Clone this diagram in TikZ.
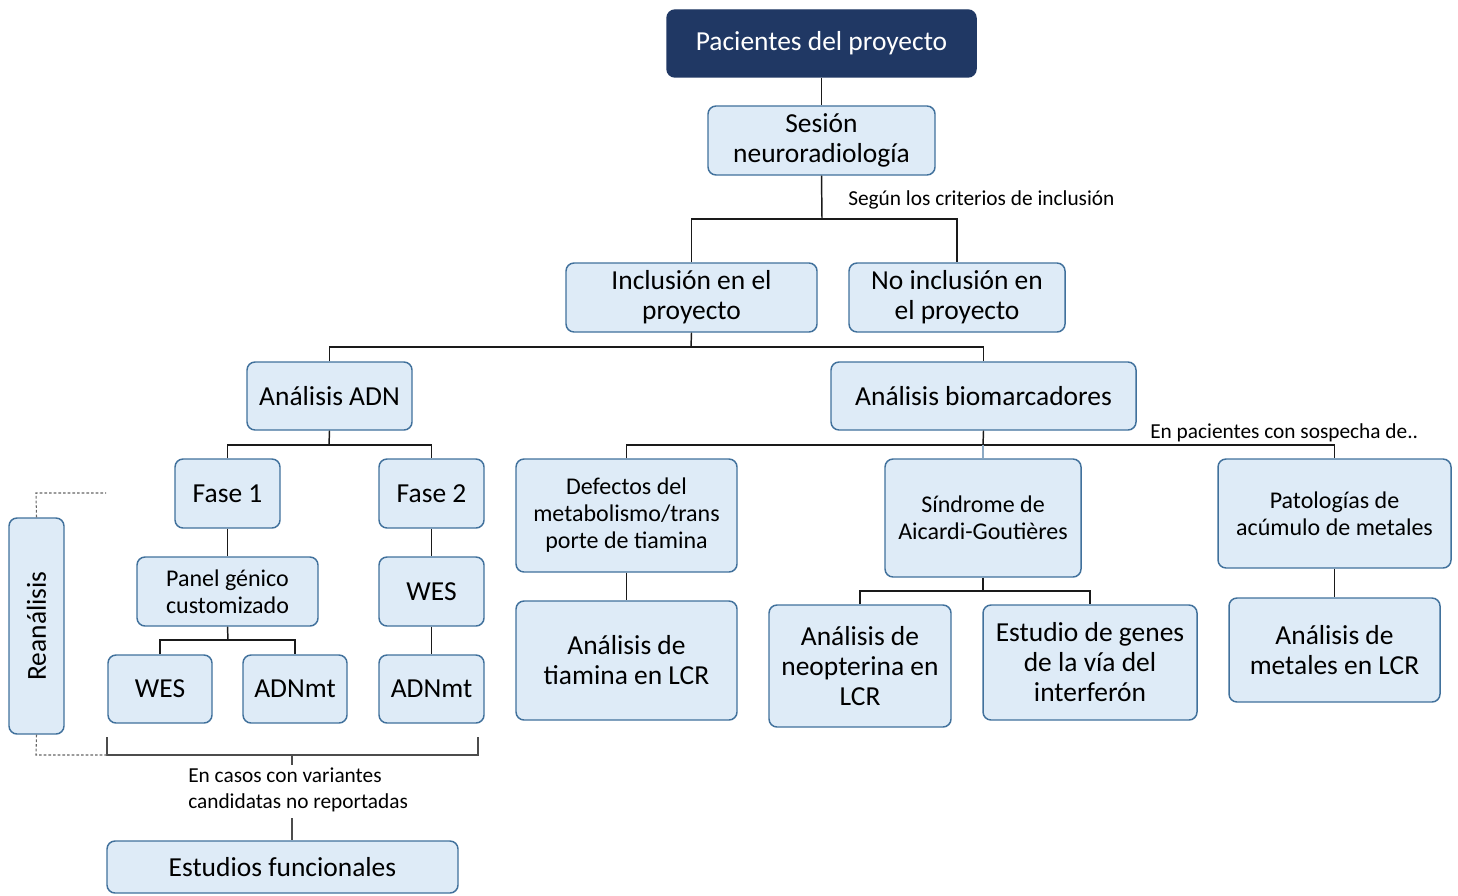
\documentclass[tikz,border=0pt]{standalone}
\usepackage{fontspec}
\setmainfont{Carlito}
\definecolor{boxfill}{HTML}{DEEBF7}
\definecolor{boxline}{HTML}{41719C}
\definecolor{navy}{HTML}{203864}
\definecolor{linec}{HTML}{1A1A1A}
\begin{document}
\begin{tikzpicture}[x=0.75pt,y=-0.75pt,
  box/.style={draw=boxline, fill=boxfill, rounded corners=6pt, line width=1.1pt,
    align=center, inner sep=0pt, text=black, font=\fontsize{20.6}{22.5}\selectfont},
  smallbox/.style={box, font=\fontsize{18}{20.25}\selectfont},
  topbox/.style={box, fill=navy, draw=navy, text=white},
  conn/.style={draw=linec, line width=1.1pt},
  note/.style={font=\fontsize{16}{19.5}\selectfont, inner sep=0pt, align=left},
  dots/.style={draw=gray!80!black, line width=0.8pt, dash pattern=on 2pt off 1.5pt}]
\useasboundingbox (0,0) rectangle (1458,895);

% boxes
\node[topbox, minimum width=231.75pt, minimum height=50.25pt] (pac) at (821.5,43.5) {Pacientes del proyecto};
\node[box, minimum width=170.25pt, minimum height=51.75pt] (ses) at (821.5,140.5) {Sesión\\neuroradiología};
\node[box, minimum width=188.25pt, minimum height=51.75pt] (inc) at (691.5,297.5) {Inclusión en el\\proyecto};
\node[box, minimum width=162pt, minimum height=51.75pt] (noinc) at (957,297.5) {No inclusión en\\el proyecto};
\node[box, minimum width=123.75pt, minimum height=51pt] (adn) at (329.5,396) {Análisis ADN};
\node[box, minimum width=228.75pt, minimum height=51pt] (bio) at (983.5,396) {Análisis biomarcadores};
\node[box, minimum width=78.75pt, minimum height=51.75pt] (f1) at (227.5,493.5) {Fase 1};
\node[box, minimum width=78.75pt, minimum height=51.75pt] (f2) at (431.5,493.5) {Fase 2};
\node[smallbox, minimum width=135.75pt, minimum height=51.75pt] (panel) at (227.5,591.5) {Panel génico\\customizado};
\node[box, minimum width=78.75pt, minimum height=51.75pt] (wesr) at (431.5,591.5) {WES};
\node[box, minimum width=78pt, minimum height=51pt] (wesl) at (160,689) {WES};
\node[box, minimum width=78pt, minimum height=51pt] (mtl) at (295,689) {ADNmt};
\node[box, minimum width=78.75pt, minimum height=51pt] (mtr) at (431.5,689) {ADNmt};
\node[smallbox, minimum width=165.75pt, minimum height=84.75pt] (def) at (626.5,515.5) {Defectos del\\metabolismo/trans\\porte de tiamina};
\node[smallbox, minimum width=147pt, minimum height=88.5pt] (sin) at (983,518) {Síndrome de\\Aicardi-Goutières};
\node[smallbox, minimum width=174.75pt, minimum height=81.75pt] (pat) at (1334.5,513.5) {Patologías de\\acúmulo de metales};
\node[box, minimum width=165.75pt, minimum height=89.25pt] (tia) at (626.5,660.5) {Análisis de\\tiamina en LCR};
\node[box, minimum width=136.5pt, minimum height=91.5pt] (neo) at (860,666) {Análisis de\\neopterina en\\LCR};
\node[box, minimum width=160.5pt, minimum height=86.25pt] (gen) at (1090,662.5) {Estudio de genes\\de la vía del\\interferón};
\node[box, minimum width=158.25pt, minimum height=78pt] (met) at (1334.5,650) {Análisis de\\metales en LCR};
\node[box, minimum width=41.25pt, minimum height=162pt] (rea) at (36.5,626) {};
\node[rotate=90, font=\fontsize{20.6}{22.5}\selectfont] (reat) at (rea.center) {Reanálisis};
\node[box, minimum width=263.25pt, minimum height=39pt] (fun) at (282.5,867) {Estudios funcionales};

% junction points
\coordinate (j1) at (822,219);
\coordinate (j2) at (691,347);
\coordinate (j3) at (329,445);
\coordinate (j4) at (983,445);
\coordinate (j5) at (228,640);
\coordinate (j6) at (983,591);
\coordinate (bl) at (107,755);
\coordinate (br) at (478,755);
\coordinate (bm) at (292,755);

% connectors
\draw[conn] (pac.south) -- (ses.north);
\draw[conn] (ses.south) -- (j1);
\draw[conn] (inc.north) |- (j1) -| (noinc.north);
\draw[conn] (inc.south) -- (j2);
\draw[conn] (adn.north) |- (j2) -| (bio.north);
\draw[conn] (adn.south) -- (j3);
\draw[conn] (f1.north) |- (j3) -| (f2.north);
\draw[conn] (bio.south) -- (j4);
\draw[conn] (def.north) |- (j4) -| (pat.north);
\draw[draw=boxline!60, line width=1.1pt] (j4) -- (sin.north);
\draw[conn] (f1.south) -- (panel.north);
\draw[conn] (panel.south) -- (j5);
\draw[conn] (wesl.north) |- (j5) -| (mtl.north);
\draw[conn] (f2.south) -- (wesr.north);
\draw[conn] (wesr.south) -- (mtr.north);
\draw[conn] (def.south) -- (tia.north);
\draw[conn] (sin.south) -- (j6);
\draw[conn] (neo.north) |- (j6) -| (gen.north);
\draw[conn] (pat.south) -- (met.north);

% bracket under the DNA analyses
\draw[draw=gray!60!black, line width=0.9pt] (107,737) -- (bl) -- (br) -- (478,737);
\draw[draw=gray!60!black, line width=0.9pt] (bm) -- ++(0,10);
\node[note, anchor=north west] (cas) at (188,768) {En casos con variantes\\candidatas no reportadas};
\draw[draw=gray!60!black, line width=0.9pt] (292,818) -- (fun.north -| bm);

% reanalysis loop
\draw[dots] (rea.north) -- (36,493) -- (106,493);
\draw[dots] (rea.south) -- (36,755) -- (bl);

% notes
\node[note, anchor=west] (crit) at (848,200) {Según los criterios de inclusión};
\node[note, anchor=west] (sosp) at (1150,433) {En pacientes con sospecha de..};
\end{tikzpicture}
\end{document}
